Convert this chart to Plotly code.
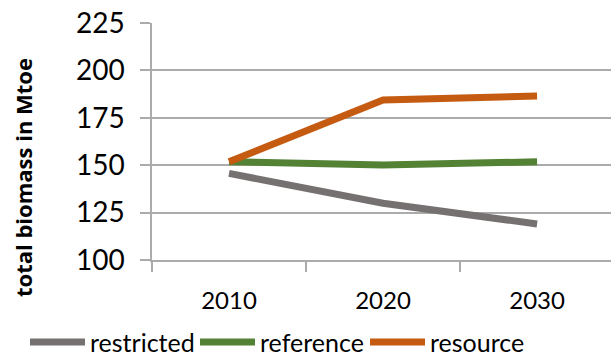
import plotly.graph_objects as go

# Scenario projections of total biomass supply (Mtoe)
years = ["2010", "2020", "2030"]
restricted = [145.7, 129.9, 119.0]
reference = [151.8, 150.1, 151.8]
resource = [151.8, 184.4, 186.5]

y_ticks = [100, 125, 150, 175, 200, 225]

series = [
    ("restricted", restricted, "#767171"),
    ("reference", reference, "#548235"),
    ("resource", resource, "#C55A11"),
]

fig = go.Figure()
for name, vals, color in series:
    fig.add_trace(go.Scatter(
        x=years, y=vals, name=name, mode="lines",
        line=dict(color=color, width=7),
    ))

grid = "#ababab"
plot_w, plot_h = 459, 237
fig.update_layout(
    width=611, height=356,
    margin=dict(l=152, r=0, t=23, b=96, autoexpand=False),
    paper_bgcolor="white", plot_bgcolor="white",
    font=dict(family="Lato, 'Open Sans', sans-serif", color="#000000", size=25),
    showlegend=True,
    legend=dict(
        orientation="h", x=-(152 - 25) / plot_w, xanchor="left",
        y=-0.25, yanchor="top",
        xref="paper", yref="paper",
        font=dict(size=25), itemwidth=55,
        entrywidth=100, entrywidthmode="pixels",
        tracegroupgap=0, bgcolor="rgba(0,0,0,0)",
    ),
    xaxis=dict(
        type="category", range=[-0.5, 2.48],
        showgrid=False, showline=True, linecolor=grid, linewidth=1.5,
        ticks="outside", ticklen=10, tickcolor=grid, tickwidth=1.5,
        tickson="boundaries", ticklabelstandoff=18,
        tickfont=dict(size=24),
    ),
    yaxis=dict(
        range=[100, 225], tickvals=y_ticks,
        showgrid=True, gridcolor=grid, gridwidth=1.5,
        showline=True, linecolor=grid, linewidth=1.5,
        ticks="outside", ticklen=10, tickcolor=grid, tickwidth=1.5,
        ticklabelstandoff=10, zeroline=False,
        tickfont=dict(size=28),
    ),
)

# Vertical axis title, set lower than the plot centre
fig.add_annotation(
    text="<b>total biomass in Mtoe</b>", textangle=-90,
    xref="paper", yref="paper",
    x=(23 - 152) / plot_w, y=(260 - 178) / plot_h,
    xanchor="center", yanchor="middle", showarrow=False,
    font=dict(size=22, family="'Open Sans', sans-serif", color="#000000"),
)

fig.write_html("out.html")
